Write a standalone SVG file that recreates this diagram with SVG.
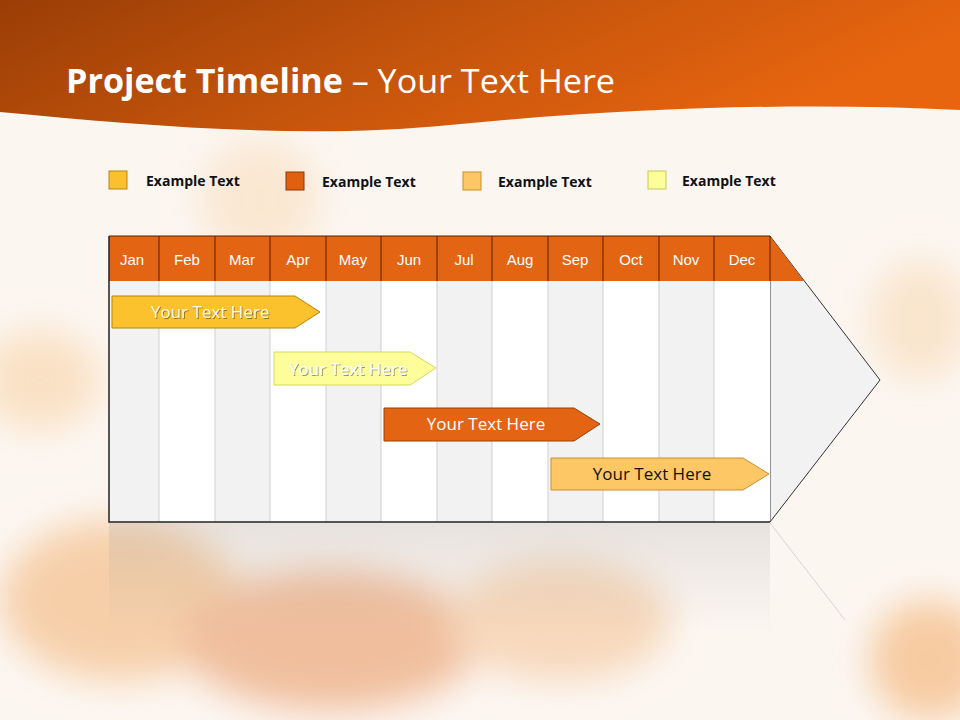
<svg xmlns="http://www.w3.org/2000/svg" width="960" height="720" viewBox="0 0 960 720">
<defs>
<linearGradient id="hdr" x1="0" y1="0" x2="1" y2="0.3"><stop offset="0" stop-color="#9a3d06"/><stop offset="0.5" stop-color="#c4540c"/><stop offset="1" stop-color="#e8650f"/></linearGradient>
<linearGradient id="refl" x1="0" y1="0" x2="0" y2="1"><stop offset="0" stop-color="#999" stop-opacity="0.35"/><stop offset="1" stop-color="#999" stop-opacity="0"/></linearGradient>
<filter id="blur" x="-50%" y="-50%" width="200%" height="200%"><feGaussianBlur stdDeviation="18"/></filter>
<filter id="sh"><feDropShadow dx="1" dy="1" stdDeviation="0.6" flood-color="#000" flood-opacity="0.4"/></filter>
<style>
.m{font-family:"Liberation Sans",Arial,sans-serif;font-size:15px;fill:#fff;text-anchor:middle}
.lg{font-family:"Open Sans","Liberation Sans",sans-serif;font-size:14px;font-weight:bold;fill:#111}
.bt{font-family:"Open Sans","Liberation Sans",sans-serif;font-size:17px;text-anchor:middle}
.g{fill:#f2f2f2}.w{fill:#fff}
.vl{stroke:#cfcfcf;stroke-width:1}
.hl{stroke:#5a2000;stroke-width:1}
</style>
</defs>
<rect width="960" height="720" fill="#fcf6f1"/>
<g filter="url(#blur)" opacity="0.55">
<ellipse cx="120" cy="600" rx="120" ry="80" fill="#f2b070"/>
<ellipse cx="330" cy="640" rx="150" ry="70" fill="#e7925a"/>
<ellipse cx="560" cy="620" rx="110" ry="60" fill="#f3c090"/>
<ellipse cx="930" cy="660" rx="60" ry="60" fill="#f2a860"/>
<ellipse cx="40" cy="380" rx="60" ry="50" fill="#f8d0a0"/>
<ellipse cx="260" cy="200" rx="60" ry="60" fill="#f8dcb8"/>
<ellipse cx="920" cy="320" rx="50" ry="60" fill="#f8d8b0"/>
</g>
<path d="M0 0H960V110C800 102 620 108 450 125C300 140 140 125 0 112Z" fill="url(#hdr)"/>
<text x="66" y="93" font-family="'Open Sans','Liberation Sans',sans-serif" font-size="33.5" fill="#fff" textLength="549" lengthAdjust="spacingAndGlyphs"><tspan font-weight="bold">Project Timeline</tspan> – Your Text Here</text>
<g id="legend">
<rect x="109" y="171" width="18" height="18" fill="#fbc02d" stroke="#b8860b"/><text class="lg" x="146" y="186">Example Text</text>
<rect x="286" y="172" width="18" height="18" fill="#e0600f" stroke="#8a3a05"/><text class="lg" x="322" y="187">Example Text</text>
<rect x="463" y="172" width="18" height="18" fill="#fdc766" stroke="#c89030"/><text class="lg" x="498" y="187">Example Text</text>
<rect x="648" y="171" width="18" height="18" fill="#fdfd9a" stroke="#c8c860"/><text class="lg" x="682" y="186">Example Text</text>
</g>
<g id="reflection" opacity="0.6">
<rect x="109" y="523" width="661" height="110" fill="url(#refl)"/>
<path d="M770 523L845 620" stroke="#bbb"/>
</g>
<g id="timeline">
<path d="M770 236L880 380L770 522Z" fill="#f2f2f2" stroke="#333"/>
<rect x="109" y="281" width="50" height="241" class="g"/><rect x="159" y="281" width="56" height="241" class="w"/>
<rect x="215" y="281" width="55" height="241" class="g"/><rect x="270" y="281" width="56" height="241" class="w"/>
<rect x="326" y="281" width="55" height="241" class="g"/><rect x="381" y="281" width="56" height="241" class="w"/>
<rect x="437" y="281" width="55" height="241" class="g"/><rect x="492" y="281" width="56" height="241" class="w"/>
<rect x="548" y="281" width="55" height="241" class="g"/><rect x="603" y="281" width="56" height="241" class="w"/>
<rect x="659" y="281" width="55" height="241" class="g"/><rect x="714" y="281" width="56" height="241" class="w"/>
<g class="vl"><path d="M159 281V522M215 281V522M270 281V522M326 281V522M381 281V522M437 281V522M492 281V522M548 281V522M603 281V522M659 281V522M714 281V522"/></g>
<path d="M109 236H770L804 281H109Z" fill="#e36412"/>
<path class="hl" d="M109 236H770M159 236V281M215 236V281M270 236V281M326 236V281M381 236V281M437 236V281M492 236V281M548 236V281M603 236V281M659 236V281M714 236V281M770 236V281"/>
<path d="M109 236V522H770" fill="none" stroke="#222" stroke-width="1.5"/>
<text class="m" x="132" y="265">Jan</text><text class="m" x="187" y="265">Feb</text><text class="m" x="242" y="265">Mar</text>
<text class="m" x="298" y="265">Apr</text><text class="m" x="353" y="265">May</text><text class="m" x="409" y="265">Jun</text>
<text class="m" x="464" y="265">Jul</text><text class="m" x="520" y="265">Aug</text><text class="m" x="575" y="265">Sep</text>
<text class="m" x="631" y="265">Oct</text><text class="m" x="686" y="265">Nov</text><text class="m" x="742" y="265">Dec</text>
</g>
<g id="bar1"><path d="M112 296H295L320 312L295 328H112Z" fill="#fbc22e" stroke="#b8860b"/><text class="bt" x="210" y="318" fill="#fff8e0" filter="url(#sh)">Your  Text Here</text></g>
<g id="bar2"><path d="M274 352H410L436 368L410 385H274Z" fill="#fdfd9a" stroke="#d8d860"/><text class="bt" x="348" y="375" fill="#fff" filter="url(#sh)">Your  Text Here</text></g>
<g id="bar3"><path d="M384 408H574L600 424L574 441H384Z" fill="#e36412" stroke="#9a4008"/><text class="bt" x="486" y="430" fill="#fff">Your  Text Here</text></g>
<g id="bar4"><path d="M551 458H743L769 474L743 490H551Z" fill="#fdc766" stroke="#c89030"/><text class="bt" x="652" y="480" fill="#111">Your  Text Here</text></g>
</svg>
